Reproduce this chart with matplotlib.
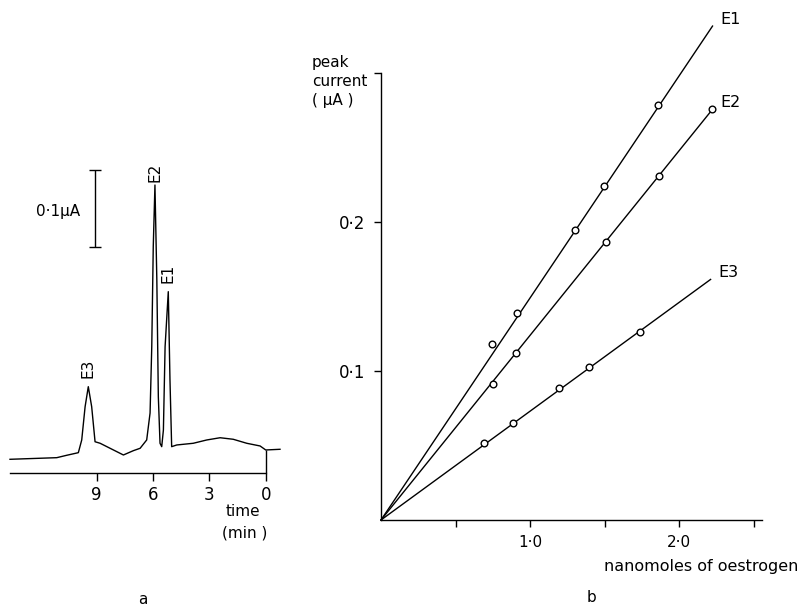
import numpy as np
import matplotlib
matplotlib.use("Agg")
import matplotlib.pyplot as plt

plt.rcParams['font.family'] = ['DejaVu Sans']

# --- panel a: chromatogram (time in min, current in uA above axis line)
trace_time = [13.62, 11.13, 10.60, 9.98, 9.80, 9.62, 9.45, 9.27, 9.09, 8.82,
              8.29, 7.58, 7.05, 6.69, 6.34, 6.16, 6.07, 5.99, 5.90, 5.80,
              5.72, 5.63, 5.54, 5.45, 5.36, 5.19, 5.10, 5.01, 4.74, 3.86,
              3.14, 2.43, 1.73, 1.01, 0.30, 0.0, -0.76]
trace_current = [0.0178, 0.0199, 0.0230, 0.0264, 0.0429, 0.0861, 0.1121, 0.0861, 0.0406, 0.0386,
                 0.0321, 0.0234, 0.0290, 0.0321, 0.0429, 0.0779, 0.164, 0.294, 0.374, 0.251,
                 0.0991, 0.0386, 0.0342, 0.0558, 0.164, 0.2355, 0.121, 0.0342, 0.0364, 0.0386,
                 0.0429, 0.0458, 0.0438, 0.0386, 0.0351, 0.0299, 0.0308]
peak_names = ['E3', 'E2', 'E1']
peak_times = [9.45, 5.90, 5.19]
time_ticks = [9, 6, 3, 0]

# --- panel b: calibration
e1_x = [0.742, 0.91, 1.30, 1.494, 1.859]
e1_y = [0.118, 0.139, 0.1946, 0.2244, 0.2785]
e2_x = [0.754, 0.904, 1.507, 1.863, 2.224]
e2_y = [0.0913, 0.1119, 0.1868, 0.2309, 0.2756]
e3_x = [0.691, 0.888, 1.197, 1.398, 1.738]
e3_y = [0.0515, 0.0653, 0.0884, 0.1027, 0.1264]
slopes = {'E1': 0.149, 'E2': 0.1239, 'E3': 0.0730}
line_end = {'E1': 2.225, 'E2': 2.224, 'E3': 2.212}

W, H = 803, 605
fig = plt.figure(figsize=(W / 100, H / 100), dpi=100)

def box(x0, y0, x1, y1):
    # pixel box (top-left origin) -> figure fraction
    return [x0 / W, 1 - y1 / H, (x1 - x0) / W, (y1 - y0) / H]

# ---------------- panel a
ax = fig.add_axes(box(10, 160, 280, 473))
ax.set_xlim(13.62, -0.76)
ax.set_ylim(0, 0.4065)
ax.plot(trace_time, trace_current, color='black', lw=1.0, clip_on=False)
for s in ['top', 'right', 'left']:
    ax.spines[s].set_visible(False)
ax.spines['bottom'].set_bounds(13.62, 0)
ax.spines['bottom'].set_linewidth(1.0)
ax.set_yticks([])
ax.set_xticks(time_ticks)
ax.set_xticklabels([str(t) for t in time_ticks], fontsize=12)
ax.tick_params(axis='x', direction='out', length=6, width=1.0, pad=3)
# tick at 0 runs up to the trace
ax.vlines(0, 0, np.interp(0, trace_time[::-1], trace_current[::-1]), color='black', lw=1.0)

# scale bar 0.1 uA
ax.errorbar([9.09], [0.3435], yerr=[0.05], color='black', lw=1.0, capsize=4, capthick=1.0, clip_on=False)
ax.text(9.9, 0.339, '0·1μA', fontsize=11, ha='right', va='center')

offsets = [9, 3, 9]
for name, t, off in zip(peak_names, peak_times, offsets):
    ax.annotate(name, (t, np.interp(t, trace_time[::-1], trace_current[::-1])),
                xytext=(0, off), textcoords='offset pixels', rotation=90,
                ha='center', va='bottom', fontsize=11)

fig.text(243 / W, 1 - 512 / H, 'time', ha='center', va='center', fontsize=11)
fig.text(245 / W, 1 - 533 / H, '(min )', ha='center', va='center', fontsize=11)
fig.text(143 / W, 1 - 599 / H, 'a', ha='center', va='center', fontsize=11)

# ---------------- panel b
bx = fig.add_axes(box(381, 20, 762, 520))
bx.set_xlim(0, 2.557)
bx.set_ylim(0, 0.3356)
for s in ['top', 'right']:
    bx.spines[s].set_visible(False)
bx.spines['left'].set_bounds(0, 0.3)
for s in ['left', 'bottom']:
    bx.spines[s].set_linewidth(1.0)

for name, xs, ys in [('E1', e1_x, e1_y), ('E2', e2_x, e2_y), ('E3', e3_x, e3_y)]:
    xe = np.array([0, line_end[name]])
    bx.plot(xe, slopes[name] * xe, color='black', lw=1.0, clip_on=False)
    bx.plot(xs, ys, 'o', mfc='white', mec='black', ms=4.8, mew=1.0, clip_on=False)
    bx.annotate(name, (xe[-1], slopes[name] * xe[-1]), xytext=(8, 7),
                textcoords='offset pixels', ha='left', va='center', fontsize=11.5)

bx.set_xticks([1.0, 2.0])
bx.set_xticklabels(['1·0', '2·0'], fontsize=11)
bx.set_xticks([0.5, 1.5, 2.5], minor=True)
bx.set_yticks([0.1, 0.2, 0.3])
bx.set_yticklabels(['0·1', '0·2', ''], fontsize=12)
bx.tick_params(axis='both', which='both', direction='out', length=5, width=1.0)
bx.tick_params(axis='x', pad=6)
bx.tick_params(axis='y', pad=6)

fig.text(312 / W, 1 - 55 / H, 'peak\ncurrent\n( μA )', ha='left', va='top',
         fontsize=11, linespacing=1.35)
fig.text(798 / W, 1 - 566 / H, 'nanomoles of oestrogen', ha='right', va='center', fontsize=11.5)
fig.text(592 / W, 1 - 598 / H, 'b', ha='center', va='center', fontsize=11)

fig.savefig('out.png', dpi=100)
